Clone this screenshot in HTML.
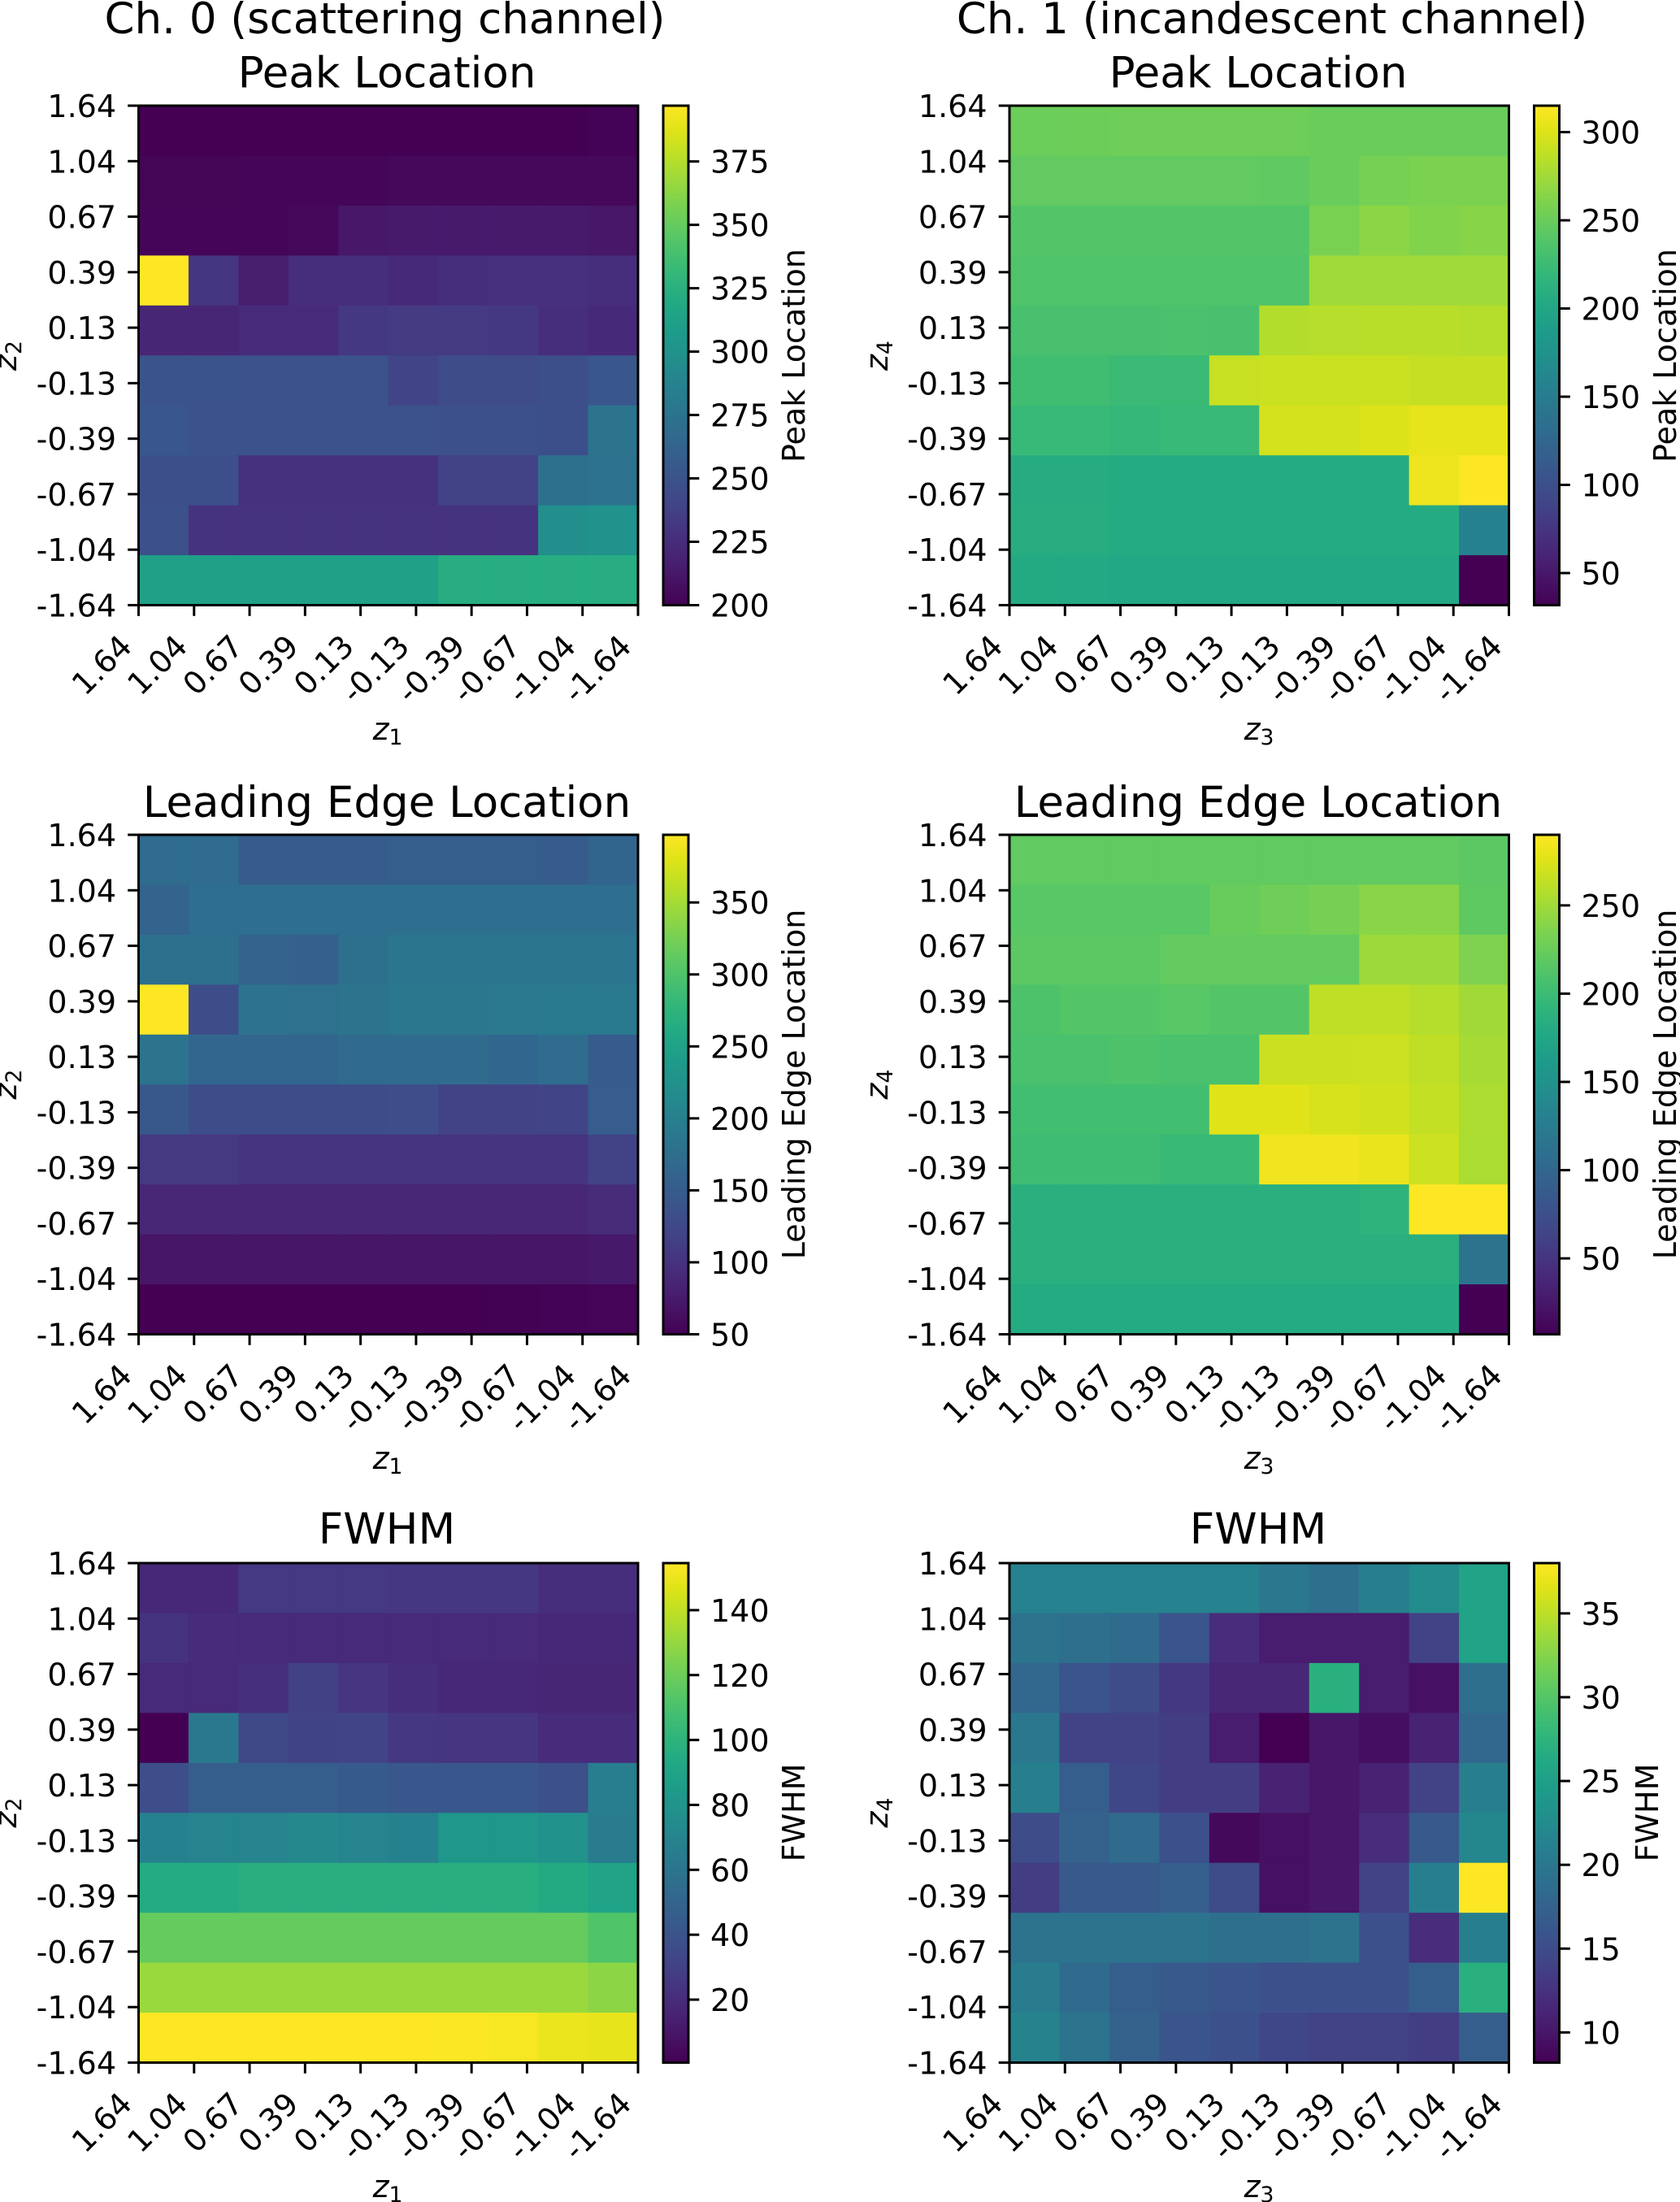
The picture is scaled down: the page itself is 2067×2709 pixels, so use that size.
<!DOCTYPE html>
<html lang="en">
<head>
<meta charset="utf-8">
<title>Peak location, leading edge location and FWHM heatmaps</title>
<style>
html,body{margin:0;padding:0;background:#fff;}
svg{display:block;}
text{font-family:"DejaVu Sans","Liberation Sans",sans-serif;fill:#000;}
.title{font-size:53px;text-anchor:middle;}
.axis-label{font-size:38px;text-anchor:middle;}
.sub{font-size:26.6px;}
.it{font-style:italic;}
.tick{font-size:38px;}
</style>
</head>
<body>
<svg id="figure" xmlns="http://www.w3.org/2000/svg" width="2067" height="2709" viewBox="0 0 2067 2709">
  <defs>
    <linearGradient id="viridis-gradient" x1="0" y1="1" x2="0" y2="0"></linearGradient>
  </defs>
  <rect x="0" y="0" width="2067" height="2709" fill="#fff"/>
  <g id="panels"></g>

  <text class="title" x="473.5" y="41">Ch. 0 (scattering channel)</text>
  <text class="title" x="1565" y="41">Ch. 1 (incandescent channel)</text>
  <text class="title" x="476" y="107.5">Peak Location</text>
  <text class="title" x="1548" y="107.5">Peak Location</text>
  <text class="title" x="476" y="1005">Leading Edge Location</text>
  <text class="title" x="1548" y="1005">Leading Edge Location</text>
  <text class="title" x="476" y="1899">FWHM</text>
  <text class="title" x="1548" y="1899">FWHM</text>

  <text class="axis-label" x="477" y="910"><tspan class="it">z</tspan><tspan class="sub" dy="6">1</tspan></text>
  <text class="axis-label" x="1549" y="910"><tspan class="it">z</tspan><tspan class="sub" dy="6">3</tspan></text>
  <text class="axis-label" x="477" y="1807"><tspan class="it">z</tspan><tspan class="sub" dy="6">1</tspan></text>
  <text class="axis-label" x="1549" y="1807"><tspan class="it">z</tspan><tspan class="sub" dy="6">3</tspan></text>
  <text class="axis-label" x="477" y="2703"><tspan class="it">z</tspan><tspan class="sub" dy="6">1</tspan></text>
  <text class="axis-label" x="1549" y="2703"><tspan class="it">z</tspan><tspan class="sub" dy="6">3</tspan></text>

  <text class="axis-label" transform="translate(20 437.5) rotate(-90)"><tspan class="it">z</tspan><tspan class="sub" dy="6">2</tspan></text>
  <text class="axis-label" transform="translate(1092 437.5) rotate(-90)"><tspan class="it">z</tspan><tspan class="sub" dy="6">4</tspan></text>
  <text class="axis-label" transform="translate(20 1334) rotate(-90)"><tspan class="it">z</tspan><tspan class="sub" dy="6">2</tspan></text>
  <text class="axis-label" transform="translate(1092 1334) rotate(-90)"><tspan class="it">z</tspan><tspan class="sub" dy="6">4</tspan></text>
  <text class="axis-label" transform="translate(20 2230) rotate(-90)"><tspan class="it">z</tspan><tspan class="sub" dy="6">2</tspan></text>
  <text class="axis-label" transform="translate(1092 2230) rotate(-90)"><tspan class="it">z</tspan><tspan class="sub" dy="6">4</tspan></text>

  <text class="axis-label" transform="translate(990 437.5) rotate(-90)">Peak Location</text>
  <text class="axis-label" transform="translate(2062 437.5) rotate(-90)">Peak Location</text>
  <text class="axis-label" transform="translate(990 1334) rotate(-90)">Leading Edge Location</text>
  <text class="axis-label" transform="translate(2062 1334) rotate(-90)">Leading Edge Location</text>
  <text class="axis-label" transform="translate(990 2230) rotate(-90)">FWHM</text>
  <text class="axis-label" transform="translate(2040 2230) rotate(-90)">FWHM</text>
</svg>

<script>
const zTickLabels = ['1.64','1.04','0.67','0.39','0.13','-0.13','-0.39','-0.67','-1.04','-1.64'];

const peakCh0 = [
  [200,200,200,200,200,200,200,200,200,201],
  [202,202,203,203,203,204,204,204,204,204],
  [203,203,203,204,212,214,214,214,214,212],
  [397,231,216,226,226,223,226,227,227,226],
  [221,221,224,224,232,234,234,232,226,223],
  [251,250,249,249,249,240,245,245,247,253],
  [253,249,249,249,249,249,248,248,247,275],
  [247,247,228,228,228,228,238,238,272,274],
  [248,229,229,229,229,229,229,229,297,300],
  [312,312,312,312,312,312,322,322,322,322]
];
const peakCh1 = [
  [251,252,253,253,253,253,250,250,250,250],
  [246,246,246,246,246,245,250,256,259,259],
  [238,238,238,238,238,238,258,266,262,264],
  [236,236,236,236,236,236,274,274,274,274],
  [232,232,232,233,232,282,284,285,285,283],
  [228,228,224,224,291,292,292,292,290,290],
  [222,222,220,222,222,296,296,300,305,305],
  [207,207,205,205,205,205,205,205,308,315],
  [208,208,205,205,205,205,205,205,205,156],
  [204,203,202,202,202,202,202,202,202,31.8]
];
const edgeCh0 = [
  [171,171,150,150,150,153,153,153,150,162],
  [161,175,175,175,175,175,175,175,175,175],
  [177,177,161,155,177,185,185,185,185,185],
  [397,130,180,178,183,188,188,190,192,192],
  [182,163,163,163,170,170,170,165,172,150],
  [145,130,130,130,130,132,117,117,120,152],
  [107,107,102,102,102,102,102,102,102,118],
  [88,88,88,88,88,88,88,88,88,93],
  [70,70,70,70,70,70,70,70,70,73],
  [50,50,50,50,50,50,50,51,52,53]
];
const edgeCh1 = [
  [221,221,221,221,221,221,221,221,221,218],
  [216,216,216,216,224,228,232,240,240,220],
  [218,218,218,222,222,222,222,248,248,235],
  [210,214,214,216,214,214,262,262,258,250],
  [208,208,210,208,208,267,267,268,262,252],
  [204,204,204,204,277,277,273,270,264,255],
  [201,201,201,198,198,284,284,281,268,254],
  [186,186,186,186,186,186,186,190,290,290],
  [185,185,185,185,185,185,185,185,185,115],
  [180,180,180,180,180,180,180,180,180,7]
];
const fwhmCh0 = [
  [18,18,26,26,26,25,25,25,21,21],
  [23,20,19,19,19,19,19,19,18,18],
  [19,19,22,30,24,21,18,18,17,17],
  [0.6,62,34,31,32,25,24,24,20,20],
  [37,46,46,46,44,42,42,42,38,66],
  [68,70,70,72,70,68,82,82,78,64],
  [95,95,97,97,97,97,97,97,94,90],
  [118,118,118,118,118,118,118,118,118,112],
  [131,131,131,131,131,131,131,131,131,128],
  [154.5,154.5,154.5,154.5,154.5,154.5,154,153,150,149]
];
const fwhmCh1 = [
  [21.3,21.3,21.3,21.3,21.3,20,19,21,22.5,25.5],
  [19.5,19,18.5,16,12,10.5,10.5,10.5,14,25.5],
  [18,16,15,13,11.5,11.5,27,10.5,9.5,19],
  [20,14,14,13.5,10.5,8.2,10,9.3,11,18],
  [21,17,14.5,13.5,13.5,11,10,11,14,21],
  [15,17.5,18.5,15.5,8.9,9.5,10,12,16.5,22],
  [13.5,16.5,16.5,17,15,9.5,10,14,21,38],
  [19.5,19.5,19.5,19.5,19,19,19.5,15.5,12,21],
  [20.5,18.5,17,16.5,16,15.5,15.5,15.5,17,27],
  [21.5,19.5,17.5,16,15.5,14.5,14,14,13.5,17]
];

const cbTicksPeakCh0 = [200,225,250,275,300,325,350,375];
const cbTicksPeakCh1 = [50,100,150,200,250,300];
const cbTicksEdgeCh0 = [50,100,150,200,250,300,350];
const cbTicksEdgeCh1 = [50,100,150,200,250];
const cbTicksFwhmCh0 = [20,40,60,80,100,120,140];
const cbTicksFwhmCh1 = [10,15,20,25,30,35];

const viridis = ['#440154','#471365','#482475','#463480','#414487','#3b528b','#355f8d','#2f6c8e','#2a788e','#25848e','#21918c','#1e9c89','#22a884','#2fb47c','#44bf70','#5ec962','#7ad151','#9bd93c','#bddf26','#dfe318','#fde725'];

const SVGNS = 'http://www.w3.org/2000/svg';
const AXES_SIZE = 614.5;
const CB_OFFSET = 645.5;
const CB_WIDTH = 31;
const TICK_LEN = 13.3;
const SPINE = 3;

function hexToRgb(h){
  return [parseInt(h.slice(1,3),16),parseInt(h.slice(3,5),16),parseInt(h.slice(5,7),16)];
}
function colormap(t){
  const c = Math.max(0,Math.min(1,t))*(viridis.length-1);
  const i = Math.min(Math.floor(c),viridis.length-2);
  const f = c-i;
  const a = hexToRgb(viridis[i]);
  const b = hexToRgb(viridis[i+1]);
  return 'rgb('+a.map(function(v,k){return Math.round(v+(b[k]-v)*f);}).join(',')+')';
}
function make(parent,tag,attrs){
  const el = document.createElementNS(SVGNS,tag);
  Object.keys(attrs).forEach(function(k){el.setAttribute(k,attrs[k]);});
  parent.appendChild(el);
  return el;
}

const gradient = document.getElementById('viridis-gradient');
viridis.forEach(function(col,i){
  make(gradient,'stop',{offset:(i/(viridis.length-1)),'stop-color':col});
});

function drawPanel(key,values,cbTicks,x0,y0){
  const root = document.getElementById('panels');
  const g = make(root,'g',{});
  
  

  const flat = values.reduce(function(a,r){return a.concat(r);},[]);
  const vmin = Math.min.apply(null,flat);
  const vmax = Math.max.apply(null,flat);
  const norm = function(v){return (v-vmin)/(vmax-vmin);};
  const nRows = values.length;
  const nCols = values[0].length;
  const cellX = function(c){return x0+c*AXES_SIZE/nCols;};
  const cellY = function(r){return y0+r*AXES_SIZE/nRows;};
  const tickPos = function(i){return i*AXES_SIZE/(zTickLabels.length-1);};
  const cbY = function(v){return y0+AXES_SIZE*(1-norm(v));};

  values.forEach(function(row,r){
    row.forEach(function(v,c){
      const rect = make(g,'rect',{x:cellX(c),y:cellY(r),width:AXES_SIZE/nCols+0.6,height:AXES_SIZE/nRows+0.6,fill:colormap(norm(v))});
      
      
    });
  });

  const frame = make(g,'rect',{x:x0,y:y0,width:AXES_SIZE,height:AXES_SIZE,fill:'none',stroke:'#000','stroke-width':SPINE});
  
  

  zTickLabels.forEach(function(label,i){
    const ty = y0+tickPos(i);
    const yTick = make(g,'line',{x1:x0-TICK_LEN,x2:x0,y1:ty,y2:ty,stroke:'#000','stroke-width':SPINE});
    
    
    const yLab = make(g,'text',{class:'tick',x:x0-27.5,y:ty+14,'text-anchor':'end'});
    yLab.textContent = label;
    
    

    const tx = x0+tickPos(i);
    const yb = y0+AXES_SIZE;
    const xTick = make(g,'line',{x1:tx,x2:tx,y1:yb,y2:yb+TICK_LEN,stroke:'#000','stroke-width':SPINE});
    
    
    const xLab = make(g,'text',{class:'tick','text-anchor':'end',transform:'translate('+(tx-6)+' '+(yb+53)+') rotate(-45)'});
    xLab.textContent = label;
    
    
  });

  const cbX = x0+CB_OFFSET;
  const bar = make(g,'rect',{x:cbX,y:y0,width:CB_WIDTH,height:AXES_SIZE,fill:'url(#viridis-gradient)',stroke:'#000','stroke-width':SPINE});
  
  

  cbTicks.forEach(function(v,i){
    const ty = cbY(v);
    const t = make(g,'line',{x1:cbX+CB_WIDTH,x2:cbX+CB_WIDTH+TICK_LEN,y1:ty,y2:ty,stroke:'#000','stroke-width':SPINE});
    
    
    const l = make(g,'text',{class:'tick',x:cbX+CB_WIDTH+27,y:ty+14});
    l.textContent = String(v);
    
    
  });
}

drawPanel('peak-ch0',peakCh0,cbTicksPeakCh0,170.5,130);
drawPanel('peak-ch1',peakCh1,cbTicksPeakCh1,1242,130);
drawPanel('edge-ch0',edgeCh0,cbTicksEdgeCh0,170.5,1027);
drawPanel('edge-ch1',edgeCh1,cbTicksEdgeCh1,1242,1027);
drawPanel('fwhm-ch0',fwhmCh0,cbTicksFwhmCh0,170.5,1923);
drawPanel('fwhm-ch1',fwhmCh1,cbTicksFwhmCh1,1242,1923);
</script>
</body>
</html>
